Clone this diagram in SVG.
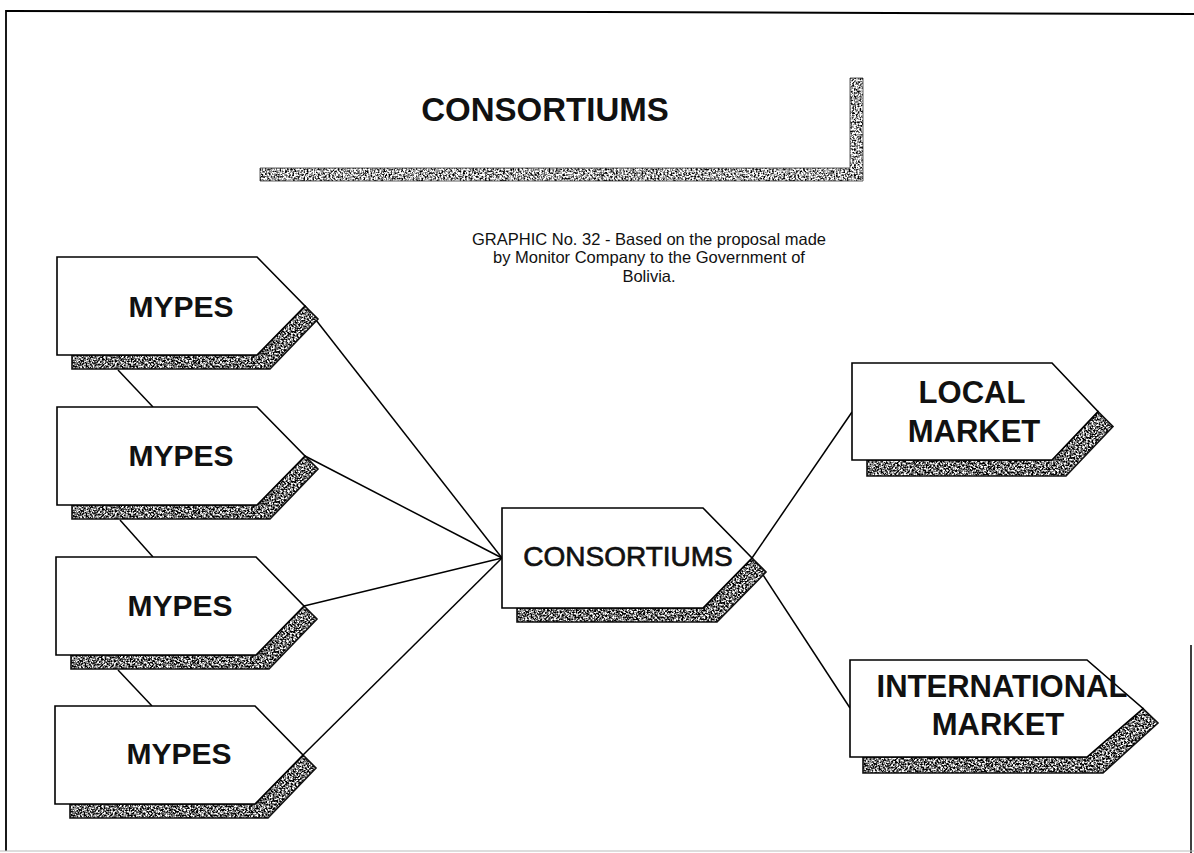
<svg xmlns="http://www.w3.org/2000/svg" width="1194" height="853" viewBox="0 0 1194 853">
  <defs>
    <!-- stippled grey fill used for the drop shadows -->
    <filter id="grain" x="-5%" y="-5%" width="110%" height="110%" color-interpolation-filters="sRGB">
      <feTurbulence type="fractalNoise" baseFrequency="0.55" numOctaves="2" seed="7" result="noise"/>
      <feColorMatrix in="noise" type="matrix" values="3.2 0 0 0 -1.15  3.2 0 0 0 -1.15  3.2 0 0 0 -1.15  0 0 0 0 1" result="speck"/>
      <feComposite in="speck" in2="SourceAlpha" operator="in"/>
    </filter>
    <filter id="grain-light" x="-5%" y="-5%" width="110%" height="110%" color-interpolation-filters="sRGB">
      <feTurbulence type="fractalNoise" baseFrequency="0.55" numOctaves="2" seed="3" result="noise"/>
      <feColorMatrix in="noise" type="matrix" values="3 0 0 0 -0.85  3 0 0 0 -0.85  3 0 0 0 -0.85  0 0 0 0 1" result="speck"/>
      <feComposite in="speck" in2="SourceAlpha" operator="in"/>
    </filter>
    <style>
      .box { fill: #fff; stroke: #000; stroke-width: 1.6; stroke-linejoin: miter; }
      .shadow { fill: #000; filter: url(#grain); }
      .shadow-edge { fill: none; stroke: #111; stroke-width: 1.6; }
      .lbl { font-family: "Liberation Sans", Arial, sans-serif; fill: #111; text-anchor: middle; }
      .b { font-weight: bold; }
      .conn { stroke: #000; stroke-width: 1.5; fill: none; }
    </style>
  </defs>

  <rect width="1194" height="853" fill="#fff"/>

  <!-- page frame -->
  <g id="frame" fill="none">
    <path d="M6 11 L600 12 L1194 14" stroke="#000" stroke-width="2"/>
    <line x1="6" y1="10" x2="6" y2="851" stroke="#000" stroke-width="1.8"/>
    <line x1="1191" y1="645" x2="1191" y2="853" stroke="#000" stroke-width="1.5"/>
    <line x1="0" y1="851" x2="1194" y2="851" stroke="#bbb" stroke-width="1.2"/>
  </g>

  <!-- heading with L-shaped shadow bar -->
  <g id="title-banner">
    <path d="M260 168 H850 V78 H863 V181 H260 Z" fill="#000" filter="url(#grain-light)"/>
    <path d="M260 168 H850 V78 H863 V181 H260 Z" fill="none" stroke="#333" stroke-width="0.8"/>
    <text class="lbl b" x="545" y="121" font-size="33">CONSORTIUMS</text>
  </g>

  <g id="caption">
    <text class="lbl" x="649" y="245" font-size="16.5">GRAPHIC No. 32 - Based on the proposal made</text>
    <text class="lbl" x="649" y="263" font-size="16.5">by Monitor Company to the Government of</text>
    <text class="lbl" x="649" y="282" font-size="16.5">Bolivia.</text>
  </g>

  <!-- connectors -->
  <g id="connectors" class="conn">
    <line x1="118" y1="370" x2="153" y2="407"/>
    <line x1="120" y1="520" x2="153" y2="557"/>
    <line x1="118" y1="670" x2="152" y2="706"/>
    <line x1="305" y1="306" x2="502" y2="558"/>
    <line x1="305" y1="456" x2="502" y2="558"/>
    <line x1="304" y1="606" x2="502" y2="558"/>
    <line x1="303" y1="755" x2="502" y2="558"/>
    <line x1="752" y1="558" x2="852" y2="412"/>
    <line x1="752" y1="558" x2="850" y2="708"/>
  </g>

  <g id="mypes-1" transform="translate(57,257)">
    <polygon class="shadow" points="248,49 261,62 213,112 15,112 15,98 200,98"/>
    <polygon class="shadow-edge" points="248,49 261,62 213,112 15,112 15,98 200,98"/>
    <polygon class="box" points="0,0 200,0 248,49 200,98 0,98"/>
    <text class="lbl b" x="124" y="60" font-size="30">MYPES</text>
  </g>

  <g id="mypes-2" transform="translate(57,407)">
    <polygon class="shadow" points="248,49 261,62 213,112 15,112 15,98 200,98"/>
    <polygon class="shadow-edge" points="248,49 261,62 213,112 15,112 15,98 200,98"/>
    <polygon class="box" points="0,0 200,0 248,49 200,98 0,98"/>
    <text class="lbl b" x="124" y="59" font-size="30">MYPES</text>
  </g>

  <g id="mypes-3" transform="translate(56,557)">
    <polygon class="shadow" points="248,49 261,62 213,112 15,112 15,98 200,98"/>
    <polygon class="shadow-edge" points="248,49 261,62 213,112 15,112 15,98 200,98"/>
    <polygon class="box" points="0,0 200,0 248,49 200,98 0,98"/>
    <text class="lbl b" x="124" y="59" font-size="30">MYPES</text>
  </g>

  <g id="mypes-4" transform="translate(55,706)">
    <polygon class="shadow" points="248,49 261,62 213,112 15,112 15,98 200,98"/>
    <polygon class="shadow-edge" points="248,49 261,62 213,112 15,112 15,98 200,98"/>
    <polygon class="box" points="0,0 200,0 248,49 200,98 0,98"/>
    <text class="lbl b" x="124" y="58" font-size="30">MYPES</text>
  </g>

  <g id="consortiums" transform="translate(502,508)">
    <polygon class="shadow" points="250,50 264,64 215,114 15,114 15,100 201,100"/>
    <polygon class="shadow-edge" points="250,50 264,64 215,114 15,114 15,100 201,100"/>
    <polygon class="box" points="0,0 201,0 250,50 201,100 0,100"/>
    <text class="lbl" x="126" y="58" font-size="28" stroke="#111" stroke-width="0.7">CONSORTIUMS</text>
  </g>

  <g id="local-market" transform="translate(852,363)">
    <polygon class="shadow" points="246,48.5 261,63.5 214,113 15,113 15,97 200,97"/>
    <polygon class="shadow-edge" points="246,48.5 261,63.5 214,113 15,113 15,97 200,97"/>
    <polygon class="box" points="0,0 200,0 246,48.5 200,97 0,97"/>
    <text class="lbl b" x="120" y="40" font-size="31">LOCAL</text>
    <text class="lbl b" x="122" y="79" font-size="31">MARKET</text>
  </g>

  <g id="international-market" transform="translate(850,660)">
    <polygon class="shadow" points="293,48.5 308,63 253,113 13,113 13,97 237,97"/>
    <polygon class="shadow-edge" points="293,48.5 308,63 253,113 13,113 13,97 237,97"/>
    <polygon class="box" points="0,0 237,0 293,48.5 237,97 0,97"/>
    <text class="lbl b" x="152" y="37" font-size="31">INTERNATIONAL</text>
    <text class="lbl b" x="148" y="75" font-size="31">MARKET</text>
  </g>
</svg>
